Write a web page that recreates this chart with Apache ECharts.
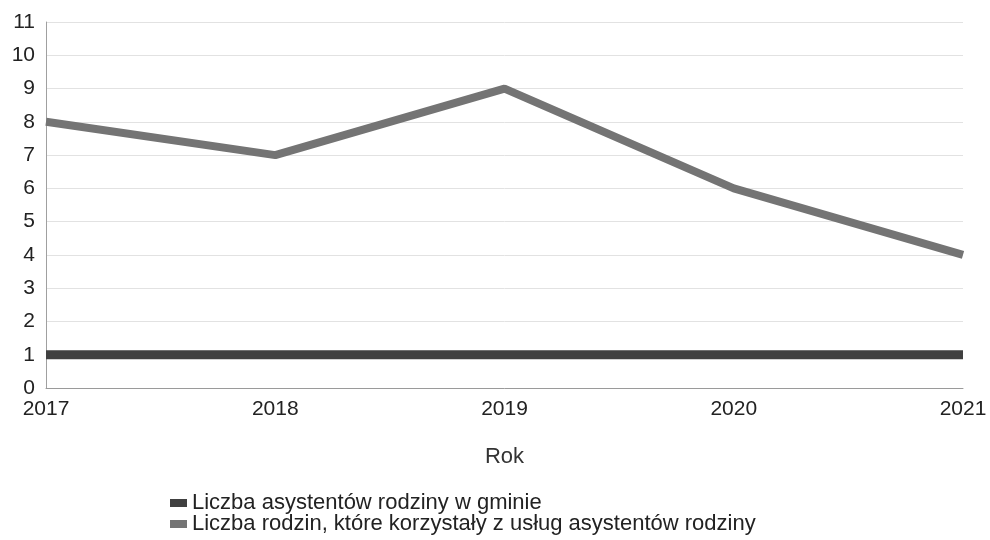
<!DOCTYPE html>
<html>
<head>
<meta charset="utf-8">
<script src="https://cdn.jsdelivr.net/npm/echarts@6/dist/echarts.min.js"></script>
<style>
  html, body { margin: 0; padding: 0; background: #fff; }
  #chart { width: 990px; height: 540px; }
</style>
</head>
<body>
<div id="chart"></div>
<script>
// Years on the x axis
const years = ['2017', '2018', '2019', '2020', '2021'];
// Number of family assistants in the municipality
const assistants = [1, 1, 1, 1, 1];
// Number of families using family assistant services
const families = [8, 7, 9, 6, 4];

const seriesNames = [
  'Liczba asystentów rodziny w gminie',
  'Liczba rodzin, które korzystały z usług asystentów rodziny'
];

const font = 'Liberation Sans, Arial, sans-serif';
const chart = echarts.init(document.getElementById('chart'));

// One legend block per row so the two entries stack vertically
const legendBase = {
  left: 170,
  itemWidth: 17,
  itemHeight: 8,
  itemGap: 0,
  icon: 'rect',
  textStyle: { fontFamily: font, fontSize: 22, color: '#222' },
  padding: 0
};

chart.setOption({
  animation: false,
  backgroundColor: '#ffffff',
  grid: { left: 46, right: 27, top: 22, bottom: 152, containLabel: false },
  legend: [
    Object.assign({}, legendBase, { top: 492, data: [seriesNames[0]] }),
    Object.assign({}, legendBase, { top: 513, data: [seriesNames[1]] })
  ],
  xAxis: {
    type: 'category',
    data: years,
    boundaryGap: false,
    name: 'Rok',
    nameLocation: 'middle',
    nameGap: 58,
    nameTextStyle: { fontFamily: font, fontSize: 22, color: '#333' },
    axisLine: { show: true, lineStyle: { color: '#9a9a9a', width: 1 } },
    axisTick: { show: false },
    axisLabel: { fontFamily: font, fontSize: 21, color: '#222', margin: 11 },
    splitLine: { show: false }
  },
  yAxis: {
    type: 'value',
    min: 0,
    max: 11,
    interval: 1,
    axisLine: { show: true, lineStyle: { color: '#a0a0a0', width: 1 } },
    axisTick: { show: false },
    axisLabel: { fontFamily: font, fontSize: 21, color: '#222', margin: 11 },
    splitLine: { show: true, lineStyle: { color: '#e2e2e2', width: 1 } }
  },
  series: [
    {
      name: seriesNames[0],
      type: 'line',
      data: assistants,
      symbol: 'none',
      lineStyle: { width: 9, color: '#404040' },
      itemStyle: { color: '#404040' }
    },
    {
      name: seriesNames[1],
      type: 'line',
      data: families,
      symbol: 'none',
      lineStyle: { width: 8, color: '#747474' },
      itemStyle: { color: '#747474' }
    }
  ]
});
</script>
</body>
</html>
